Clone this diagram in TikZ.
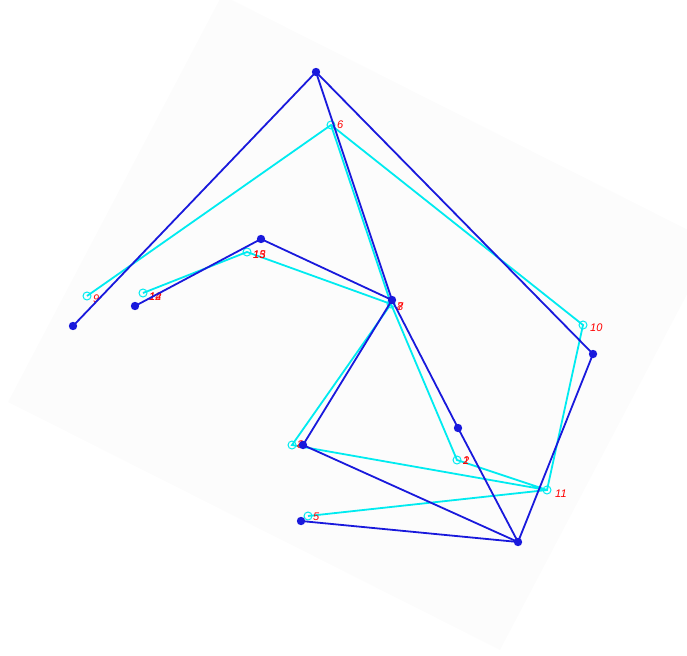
\documentclass[tikz,border=0pt]{standalone}
\usepackage{fontspec}
\setsansfont{Liberation Sans}
\definecolor{skcyan}{RGB}{0,235,240}
\definecolor{skblue}{RGB}{25,25,220}
\definecolor{bgpanel}{RGB}{252,252,252}
\begin{document}
\begin{tikzpicture}[x=1pt,y=-1pt,
  cyanline/.style={draw=skcyan, line width=1.8pt},
  blueline/.style={draw=skblue, line width=1.8pt},
  cmark/.style={draw=skcyan, line width=1pt, fill=none},
  bmark/.style={fill=skblue},
  lbl/.style={text=red, font=\sffamily\itshape\fontsize{11}{11}\selectfont, anchor=west, inner sep=0pt}]
\useasboundingbox (0,0) rectangle (687,655);
\fill[bgpanel] (222,-5) -- (714,243) -- (500,650) -- (8,402) -- cycle;
% cyan skeleton
\coordinate (c9) at (87,296);
\coordinate (c14) at (143,293);
\coordinate (c13) at (247,252);
\coordinate (c6) at (331,125);
\coordinate (c8) at (391,304);
\coordinate (c10) at (583,325);
\coordinate (c3) at (292,445);
\coordinate (c2) at (457,460);
\coordinate (c11) at (547,490);
\coordinate (c5) at (308,516);
\draw[cyanline] (c9) -- (c6) -- (c10) -- (c11) -- (c5);
\draw[cyanline] (c6) -- (c8) -- (c2) -- (c11) -- (c3) -- (c8) -- (c13) -- (c14);
\foreach \p in {c9,c14,c13,c6,c8,c10,c3,c2,c11,c5} \draw[cmark] (\p) circle (4);
% labels
\node[lbl] (l9) at ([xshift=6,yshift=-3]c9) {9};
\node[lbl] (l14) at ([xshift=6,yshift=-4]c14) {14};
\node[lbl] (l12) at ([xshift=6,yshift=-4]c14) {12};
\node[lbl] (l13) at ([xshift=6,yshift=-3]c13) {13};
\node[lbl] (l15) at ([xshift=6,yshift=-3]c13) {15};
\node[lbl] (l6) at ([xshift=6,yshift=0]c6) {6};
\node[lbl] (l8) at ([xshift=6,yshift=-3]c8) {8};
\node[lbl] (l7) at ([xshift=6,yshift=-3]c8) {7};
\node[lbl] (l10) at ([xshift=7,yshift=-3]c10) {10};
\node[lbl] (l3) at ([xshift=5,yshift=0]c3) {3};
\node[lbl] (l4) at ([xshift=5,yshift=0]c3) {4};
\node[lbl] (l2) at ([xshift=6,yshift=-1]c2) {2};
\node[lbl] (l1) at ([xshift=6,yshift=-1]c2) {1};
\node[lbl] (l11) at ([xshift=8,yshift=-4]c11) {11};
\node[lbl] (l5) at ([xshift=5,yshift=-1]c5) {5};
% blue skeleton
\coordinate (b6) at (316,72);
\coordinate (b9) at (73,326);
\coordinate (b14) at (135,306);
\coordinate (b13) at (261,239);
\coordinate (b8) at (392,300);
\coordinate (b2) at (458,428);
\coordinate (b10) at (593,354);
\coordinate (b3) at (303,445);
\coordinate (b11) at (518,542);
\coordinate (b5) at (301,521);
\draw[blueline] (b9) -- (b6) -- (b10) -- (b11) -- (b5);
\draw[blueline] (b6) -- (b8) -- (b2) -- (b11) -- (b3) -- (b8) -- (b13) -- (b14);
\foreach \p in {b9,b14,b13,b6,b8,b10,b3,b2,b11,b5} \fill[bmark] (\p) circle (4.2);
\end{tikzpicture}
\end{document}
